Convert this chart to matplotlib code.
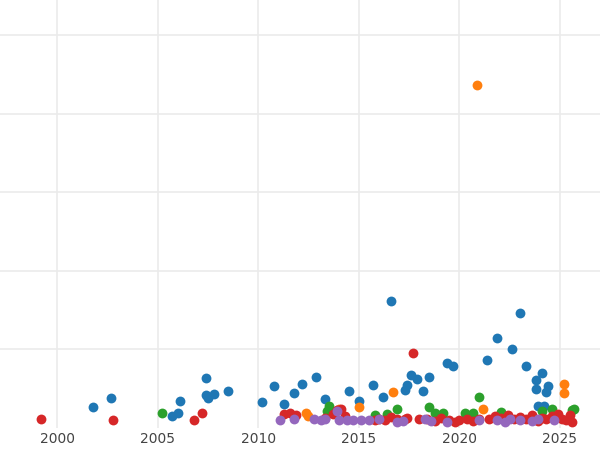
import matplotlib.pyplot as plt

# values (year, value)
blue_x = [2001.8, 2002.7, 2005.7, 2006.0, 2006.1, 2007.4, 2007.4, 2007.5, 2007.8, 2008.5,
          2010.2, 2010.8, 2011.3, 2011.8, 2012.2, 2012.9, 2013.3, 2014.5, 2015.0, 2015.7,
          2016.2, 2016.6, 2017.3, 2017.4, 2017.6, 2017.9, 2018.2, 2018.5, 2019.4, 2019.7,
          2021.4, 2021.9, 2022.6, 2023.0, 2023.3, 2023.8, 2023.8, 2024.1, 2024.4, 2024.3,
          2023.9, 2024.2]
blue_y = [2.7, 3.8, 1.5, 1.9, 3.4, 6.4, 4.2, 3.8, 4.3, 4.7,
          3.3, 5.4, 3.1, 4.5, 5.6, 6.5, 3.7, 4.7, 3.4, 5.5,
          3.9, 16.2, 4.8, 5.5, 6.8, 6.2, 4.7, 6.5, 8.3, 7.9,
          8.7, 11.5, 10.1, 14.6, 7.9, 6.1, 5.0, 7.0, 5.4, 4.6,
          2.8, 2.8]

orange_x = [2020.9, 2016.7, 2015.0, 2012.4, 2012.5, 2021.2, 2025.2, 2025.2, 2014.0]
orange_y = [43.7, 4.6, 2.7, 1.9, 1.5, 2.4, 5.6, 4.5, 2.4]

green_x = [2005.2, 2013.5, 2015.8, 2016.4, 2016.9, 2018.5, 2018.8, 2019.2, 2020.3, 2020.7,
           2021.0, 2022.1, 2024.1, 2024.6, 2025.6, 2025.7, 2013.4]
green_y = [1.9, 2.8, 1.7, 1.8, 2.4, 2.7, 1.9, 1.9, 1.9, 1.9,
           3.9, 2.0, 2.2, 2.4, 2.3, 2.4, 2.2]

red_x = [1999.2, 2002.8, 2006.8, 2007.2, 2017.7, 2011.3, 2011.6, 2011.9, 2013.3, 2013.7,
         2013.9, 2014.1, 2014.3, 2015.8, 2016.0, 2016.3, 2016.6, 2016.9, 2017.3, 2017.4,
         2018.0, 2018.4, 2018.8, 2019.1, 2019.5, 2019.8, 2020.0, 2020.4, 2020.7, 2021.0,
         2021.5, 2021.8, 2022.1, 2022.4, 2022.7, 2023.0, 2023.3, 2023.6, 2023.9, 2024.1,
         2024.3, 2024.6, 2024.9, 2025.1, 2025.3, 2025.5, 2025.6]
red_y = [1.1, 1.0, 1.0, 1.9, 9.6, 1.8, 1.9, 1.7, 1.3, 1.8,
         2.3, 2.4, 1.5, 1.0, 1.2, 1.0, 1.4, 1.1, 1.1, 1.3,
         1.1, 1.2, 0.9, 1.3, 1.0, 0.8, 1.0, 1.2, 0.9, 1.1,
         1.2, 1.5, 1.3, 1.7, 1.1, 1.4, 1.2, 1.6, 0.9, 1.3,
         1.1, 1.5, 1.8, 1.2, 1.0, 1.6, 0.8]

purple_x = [2011.1, 2011.8, 2012.8, 2013.1, 2013.3, 2013.9, 2014.0, 2014.4, 2014.7, 2015.1,
            2015.5, 2016.0, 2016.9, 2017.2, 2018.3, 2018.6, 2019.4, 2021.0, 2021.9, 2022.3,
            2022.5, 2023.0, 2023.6, 2024.7, 2023.9]
purple_y = [1.0, 1.2, 1.2, 1.0, 1.1, 2.1, 1.0, 1.0, 1.0, 1.0,
            1.0, 1.1, 0.8, 0.9, 1.1, 0.9, 0.8, 1.0, 1.0, 0.8,
            1.2, 1.0, 0.9, 1.0, 1.1]

fig = plt.figure(figsize=(6, 4.5), dpi=100)
ax = fig.add_axes([0, 0.049, 1, 0.951])

for xs, ys, c in [(blue_x, blue_y, '#1f77b4'), (orange_x, orange_y, '#ff7f0e'),
                  (green_x, green_y, '#2ca02c'), (red_x, red_y, '#d62728'),
                  (purple_x, purple_y, '#9467bd')]:
    ax.scatter(xs, ys, s=50, color=c, linewidths=0, zorder=3)

ax.set_xlim(1997.16, 2027.0)
ax.set_ylim(0, 54.5)
ax.set_xticks([2000, 2005, 2010, 2015, 2020, 2025])
ax.set_yticks([10, 20, 30, 40, 50])
ax.set_yticklabels([])
ax.tick_params(length=0, labelsize=10, labelcolor='#444444', pad=3)
ax.tick_params(axis='y', left=False, labelleft=False)
ax.grid(True, color='#ebebeb', linewidth=1.2, zorder=0)
for s in ax.spines.values():
    s.set_visible(False)

fig.savefig('out.png')
